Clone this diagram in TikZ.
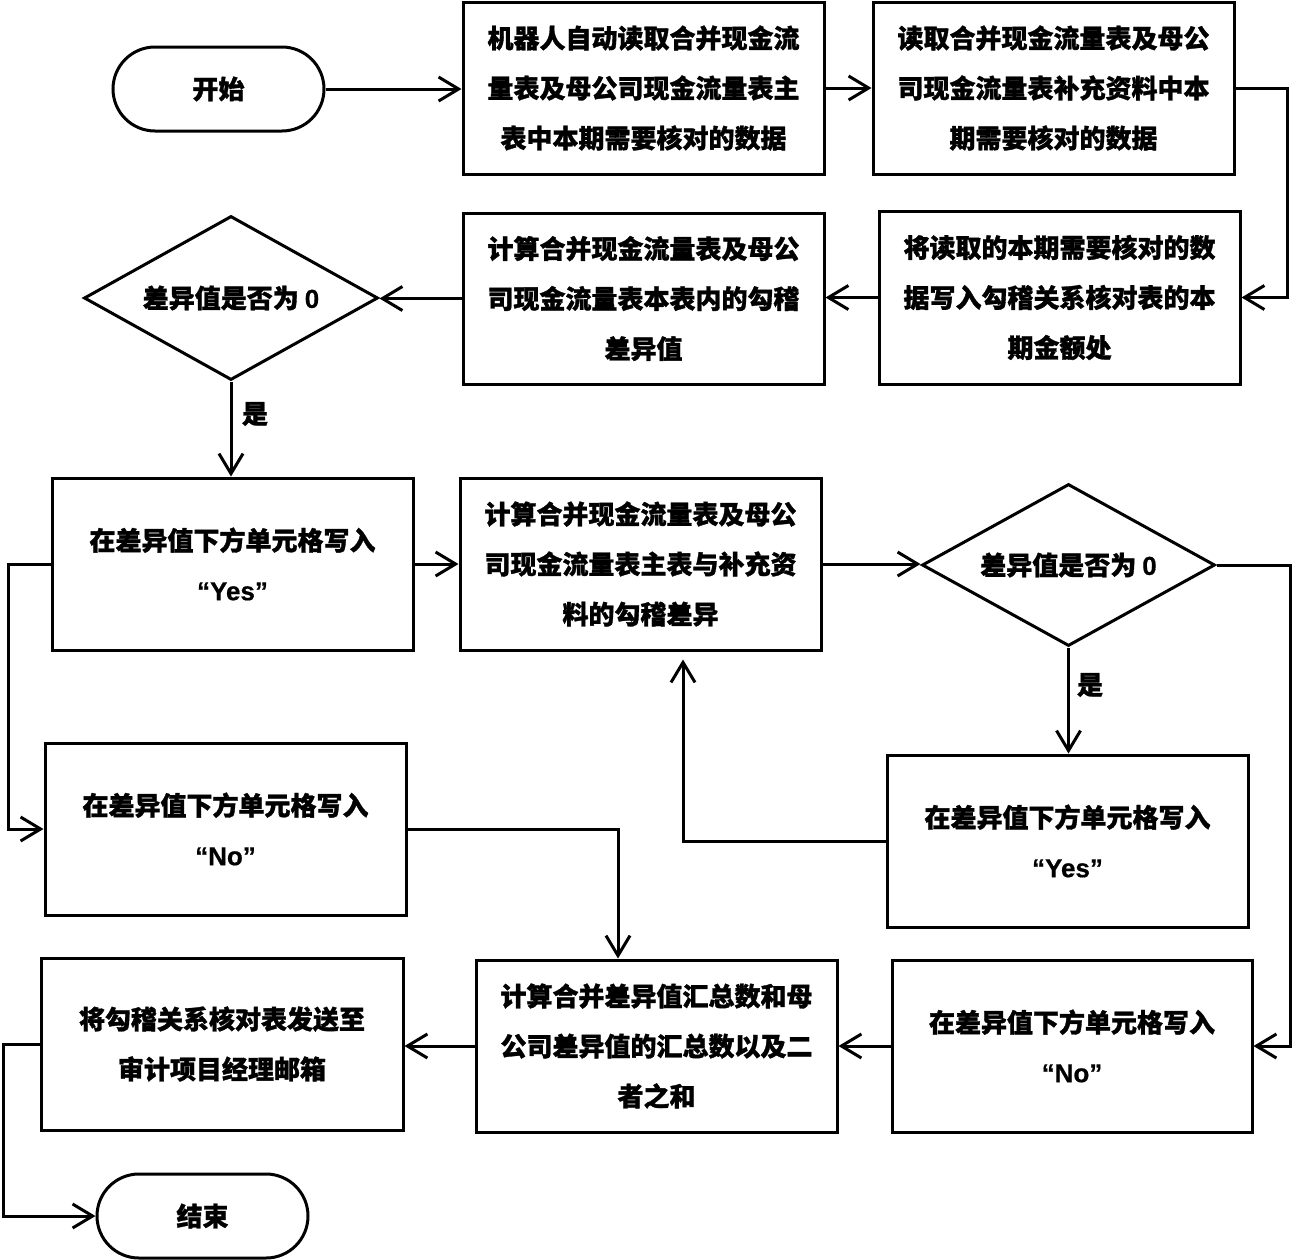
\documentclass[tikz,border=0pt]{standalone}
\usepackage{fontspec}
\newfontfamily\cjk{Noto Sans CJK SC}[BoldFeatures={FakeBold=1.2}]
\newfontfamily\lat{Liberation Sans}[BoldFeatures={FakeBold=0.6}]
\usetikzlibrary{arrows.meta,shapes.geometric,shapes.misc,calc}
\tikzset{
  box/.style={draw, line width=1.5pt, rectangle, inner sep=0pt, align=center,
    minimum width=180.5pt, minimum height=86pt},
  term/.style={draw, line width=1.5pt, rounded rectangle, inner sep=0pt,
    minimum width=105.5pt, minimum height=42pt},
  dec/.style={draw, line width=1.5pt, diamond, aspect=1.79, inner sep=0pt,
    minimum width=147pt, minimum height=82pt},
  arr/.style={-{Straight Barb[length=10pt,width=12pt,line width=1.5pt]}, line width=1.5pt, line join=miter},
  lbl/.style={inner sep=0pt},
}
\newcommand{\Lt}[1]{{\lat\bfseries #1}}
\begin{document}
\begin{tikzpicture}[x=0.5pt,y=-0.5pt,font=\cjk\bfseries\fontsize{13pt}{25pt}\selectfont]
\useasboundingbox (0,0) rectangle (1296,1259);
% nodes
\node[term] (start) at (218.5,89) {开始};
\node[box] (b1) at (643.5,88) {机器人自动读取合并现金流\\量表及母公司现金流量表主\\表中本期需要核对的数据};
\node[box] (b2) at (1053.5,88) {读取合并现金流量表及母公\\司现金流量表补充资料中本\\期需要核对的数据};
\node[box, minimum height=86.5pt] (b3) at (1059.5,297.5) {将读取的本期需要核对的数\\据写入勾稽关系核对表的本\\期金额处};
\node[box, minimum height=85.5pt] (b4) at (643.5,298.5) {计算合并现金流量表及母公\\司现金流量表本表内的勾稽\\差异值};
\node[dec] (d1) at (231,298) {差异值是否为 \Lt{0}};
\node[box] (b5) at (232.5,564) {在差异值下方单元格写入\\\Lt{“Yes”}};
\node[box] (b6) at (640.5,564) {计算合并现金流量表及母公\\司现金流量表主表与补充资\\料的勾稽差异};
\node[dec, minimum width=146.5pt, minimum height=81pt] (d2) at (1068.5,565) {差异值是否为 \Lt{0}};
\node[box] (b7) at (1067.5,841) {在差异值下方单元格写入\\\Lt{“Yes”}};
\node[box, minimum width=180pt] (b8) at (1072,1046) {在差异值下方单元格写入\\\Lt{“No”}};
\node[box] (b9) at (656.5,1046) {计算合并差异值汇总数和母\\公司差异值的汇总数以及二\\者之和};
\node[box] (b10) at (225.5,829) {在差异值下方单元格写入\\\Lt{“No”}};
\node[box, minimum width=181pt] (b11) at (222,1044) {将勾稽关系核对表发送至\\审计项目经理邮箱};
\node[term] (end) at (202.5,1216) {结束};
% labels
\node[lbl] (y1) at (255,414) {是};
\node[lbl] (y2) at (1090,685) {是};
% helper coordinates
\coordinate (c1) at (1287,0);
\coordinate (c3) at (683,0);
\coordinate (c4) at (1290,0);
\coordinate (c5) at (8,0);
\coordinate (c6) at (618,0);
\coordinate (c7) at (3,0);
% connectors
\draw[arr] (start.east) -- (start.east -| b1.west);
\draw[arr] (b1.east) -- (b1.east -| b2.west);
\draw[arr] (b2.east) -- (b2.east -| c1) |- (b3.east);
\draw[arr] (b3.west) -- (b3.west -| b4.east);
\draw[arr] (b4.west) -- (b4.west -| d1.east);
\draw[arr] (d1.south) -- (d1.south |- b5.north);
\draw[arr] (b5.east) -- (b5.east -| b6.west);
\draw[arr] (b6.east) -- (b6.east -| d2.west);
\draw[arr] (d2.south) -- (d2.south |- b7.north);
\draw[arr, shorten >=4pt] (b7.west) -| (c3 |- b6.south);
\draw[arr] (d2.east) -- (d2.east -| c4) |- (b8.east);
\draw[arr] (b8.west) -- (b8.west -| b9.east);
\draw[arr] (b5.west) -- (b5.west -| c5) |- (b10.west);
\draw[arr] (b10.east) -| (c6 |- b9.north);
\draw[arr] (b9.west) -- (b9.west -| b11.east);
\draw[arr] (b11.west) -- (b11.west -| c7) |- (end.west);
\end{tikzpicture}
\end{document}
